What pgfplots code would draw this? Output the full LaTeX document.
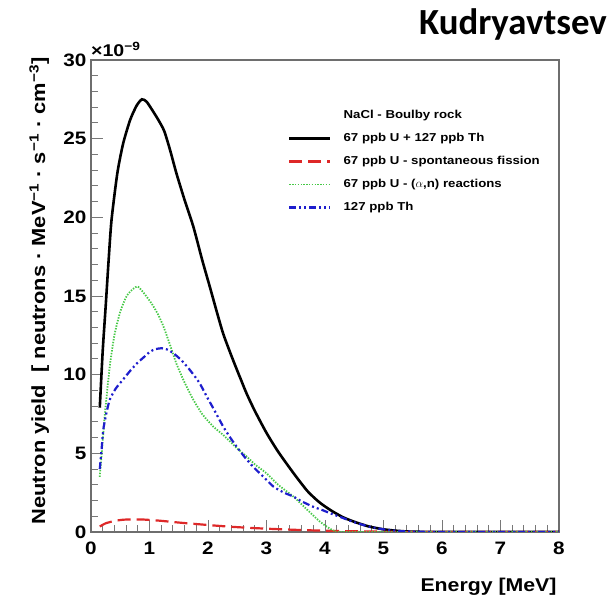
\documentclass[border=0pt]{standalone}
\usepackage{fontspec}
\setmainfont{Liberation Sans}[FakeStretch=1.15]
\newfontfamily\titlefont{Carlito}
\usepackage{pgfplots}
\pgfplotsset{compat=1.18}

\definecolor{framegray}{RGB}{110,110,110}
\definecolor{tickgray}{RGB}{120,120,120}
\definecolor{rootred}{RGB}{222,40,40}
\definecolor{rootgreen}{RGB}{70,200,70}
\definecolor{rootblue}{RGB}{30,30,205}

\begin{document}
\begin{tikzpicture}
\path[use as bounding box] (0pt,0pt) rectangle (613pt,601pt);

\begin{axis}[
  at={(91pt,69pt)}, anchor=south west,
  scale only axis, width=468pt, height=472pt,
  xmin=0, xmax=8, ymin=0, ymax=30,
  xtick={0,1,...,8}, ytick={0,5,...,30},
  minor x tick num=4, minor y tick num=4,
  tick align=inside, xtick pos=bottom, ytick pos=left,
  major tick length=12pt, minor tick length=7pt,
  axis line style={framegray, line width=1.3pt},
  tick style={tickgray, line width=0.9pt},
  /pgf/number format/assume math mode=true,
  ticklabel style={font=\bfseries\fontsize{18}{18}\selectfont, inner sep=0pt},
  xticklabel style={yshift=-9.5pt},
  yticklabel style={xshift=-4.3pt},
  legend style={at={(rel axis cs:0.421,0.894)}, anchor=north west,
    draw=none, fill=none, inner sep=0pt, outer sep=0pt,
    font=\bfseries\fontsize{11.5}{12}\selectfont,
    nodes={inner sep=0pt, text height=8.5pt, text depth=2.5pt},
    row sep=12pt, column sep=12pt},
  legend cell align=left,
  legend image code/.code={\draw[#1] (0pt,0pt) -- (41pt,0pt);},
]

\addlegendimage{empty legend}
\addlegendentry{NaCl - Boulby rock}

% total: 67 ppb U + 127 ppb Th
\addplot[black, line width=2.6pt, smooth, tension=0.4] coordinates {
(0.15,7.9) (0.2,11.5) (0.25,14.3) (0.3,17.2) (0.35,19.8) (0.45,22.8)
(0.55,24.7) (0.67,26.2) (0.78,27.1) (0.87,27.5) (0.95,27.35) (1.05,26.8)
(1.15,26.2) (1.25,25.5) (1.35,24.3) (1.46,22.8) (1.6,21.1) (1.75,19.4)
(1.9,17.3) (2.03,15.6) (2.15,14.0) (2.26,12.6) (2.4,11.2) (2.55,9.8)
(2.66,8.8) (2.8,7.7) (3.0,6.3) (3.2,5.1) (3.46,3.75) (3.7,2.6) (3.9,1.9)
(4.09,1.4) (4.3,0.95) (4.5,0.65) (4.75,0.35) (5.0,0.17) (5.25,0.07)
(5.5,0.02) (6.0,0) (7.0,0) (8.0,0)};
\addlegendentry{67 ppb U + 127 ppb Th}

% spontaneous fission of U
\addplot[rootred, line width=2.2pt, dash pattern=on 13pt off 6pt, smooth, tension=0.4] coordinates {
(0.15,0.35) (0.25,0.55) (0.4,0.7) (0.55,0.78) (0.72,0.8) (0.9,0.79)
(1.17,0.72) (1.5,0.6) (1.98,0.45) (2.4,0.33) (2.89,0.23) (3.4,0.15)
(3.9,0.09) (4.4,0.05) (5.0,0.02) (5.5,0) (6.5,0) (8.0,0)};
\addlegendentry{67 ppb U - spontaneous fission}

% (alpha,n) reactions from U
\addplot[rootgreen, line width=1.8pt, dash pattern=on 1.4pt off 1.4pt, smooth, tension=0.4] coordinates {
(0.15,3.5) (0.2,5.8) (0.24,7.6) (0.32,10.5) (0.4,12.5) (0.5,14.0)
(0.61,15.0) (0.72,15.45) (0.8,15.6) (0.9,15.2) (1.04,14.5) (1.15,13.8)
(1.24,13.05) (1.35,11.9) (1.46,10.7) (1.6,9.5) (1.75,8.4) (1.9,7.5)
(2.09,6.7) (2.25,6.2) (2.38,5.74) (2.5,5.3) (2.66,4.8) (2.8,4.3)
(3.0,3.73) (3.2,3.0) (3.46,2.25) (3.7,1.4) (3.9,0.7) (4.03,0.34)
(4.15,0.08) (4.25,0) (5.5,0) (8.0,0)};
\addlegendentry{67 ppb U - ($\alpha$,n) reactions}

% Th chain
\addplot[rootblue, line width=2.2pt, dash pattern=on 7pt off 3pt on 2pt off 3pt on 2pt off 3pt, smooth, tension=0.4] coordinates {
(0.15,4.0) (0.18,5.2) (0.21,6.5) (0.26,7.5) (0.32,8.4) (0.42,9.1)
(0.55,9.7) (0.66,10.2) (0.78,10.7) (0.9,11.1) (1.01,11.46) (1.1,11.62)
(1.21,11.68) (1.3,11.6) (1.41,11.36) (1.55,10.9) (1.69,10.3) (1.85,9.5)
(1.98,8.6) (2.1,7.8) (2.26,6.7) (2.38,6.0) (2.49,5.42) (2.63,4.75)
(2.77,4.15) (2.95,3.5) (3.12,2.88) (3.3,2.5) (3.46,2.25) (3.6,1.95)
(3.8,1.6) (3.95,1.4) (4.09,1.19) (4.3,0.9) (4.5,0.62) (4.75,0.35)
(5.0,0.17) (5.25,0.07) (5.5,0.02) (6.0,0) (7.0,0) (8.0,0)};
\addlegendentry{127 ppb Th}

\end{axis}

% exponent of the y axis
\node[anchor=base west, inner sep=0pt, font=\bfseries\fontsize{17}{17}\selectfont]
  at (91pt,544.3pt) {×10\textsuperscript{−9}};

% axis titles
\node[rotate=90, anchor=base, inner sep=0pt, font=\bfseries\fontsize{19}{19}\selectfont]
  at (45pt,310pt) {Neutron yield \ [ neutrons · MeV\textsuperscript{−1} · s\textsuperscript{−1} · cm\textsuperscript{−3}]};
\node[anchor=base east, inner sep=0pt, font=\bfseries\fontsize{18.5}{18.5}\selectfont]
  at (556.7pt,9.3pt) {Energy [MeV]};

% slide heading
\node[anchor=base east, inner sep=0pt, font=\titlefont\bfseries\fontsize{36.8}{36.8}\selectfont]
  at (607pt,566.6pt) {Kudryavtsev};
\end{tikzpicture}
\end{document}
